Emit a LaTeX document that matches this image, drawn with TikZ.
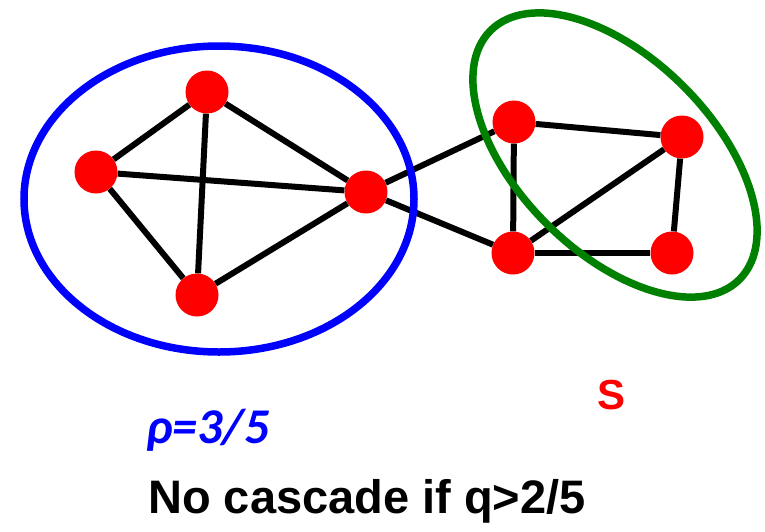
\documentclass[tikz,border=0pt]{standalone}
\usepackage{fontspec}
\setmainfont{Liberation Sans}
\newfontfamily\calfont{Carlito}
\usetikzlibrary{positioning}
\definecolor{GRgreen}{RGB}{0,128,0}

\begin{document}
\begin{tikzpicture}[x=1pt,y=-1pt,
      vtx/.style={circle,fill=red,minimum size=43pt,inner sep=0pt},
      link/.style={line width=6pt},
      group/.style={line width=7.5pt},
      label/.style={anchor=base,inner sep=0pt}
    ]
    \useasboundingbox (0,0) rectangle (765,531);
    % left community
    \node[vtx] (top) at (207,92) {};
    \node[vtx] (left) at (96,172) {};
    \node[vtx] (hub) at (366,192) {};
    \node[vtx] (bottom) at (197,295) {};
    % right community
    \node[vtx] (ul) at (514,122) {};
    \node[vtx] (ur) at (682,137) {};
    \node[vtx] (ll) at (513,253) {};
    \node[vtx] (lr) at (672,253) {};
    \foreach \a/\b in {top/left,top/hub,top/bottom,left/hub,left/bottom,bottom/hub,
                       hub/ul,hub/ll,ul/ur,ul/ll,ur/lr,ll/lr,ll/ur}
      \draw[link] (\a) -- (\b);
    \draw[group,blue] (219,199) ellipse (195pt and 153pt);
    \draw[group,GRgreen,rotate around={-45:(615,155)}] (615,155) ellipse (176pt and 97pt);
    \node[label,blue,font=\calfont\bfseries\itshape\fontsize{50}{56}\selectfont] (rho) at (208,443) {ρ=3/5};
    \node[label,red,font=\bfseries\fontsize{42}{48}\selectfont] (seed) at (611,409) {S};
    \node[label,font=\bfseries\fontsize{47}{54}\selectfont] (msg) at (367,513) {No cascade if q>2/5};
  \end{tikzpicture}
\end{document}
